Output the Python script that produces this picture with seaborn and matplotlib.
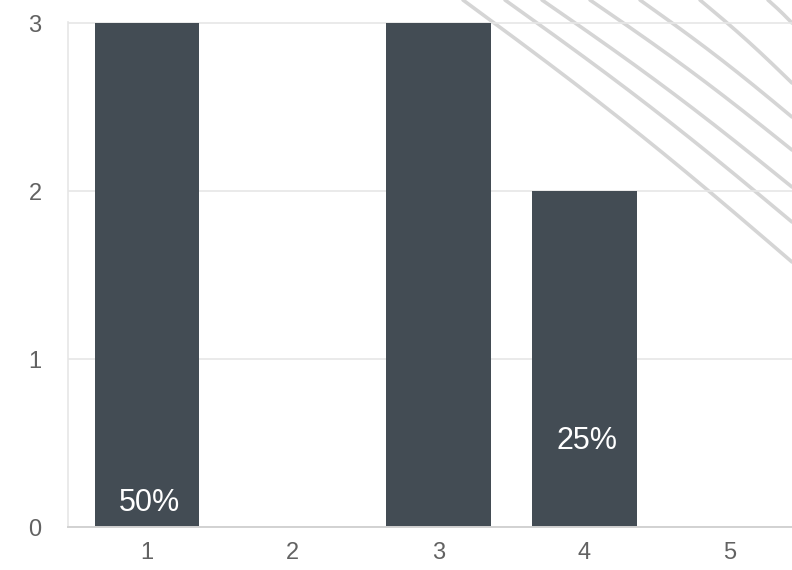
import numpy as np
import pandas as pd
import matplotlib
matplotlib.use("Agg")
import matplotlib.pyplot as plt
import seaborn as sns

# Rating distribution
ratings = ["1", "2", "3", "4", "5"]
counts = [3, 0, 3, 2, 0]
share_text = ["50%", "", "", "25%", ""]

BAR = "#434c54"
GRID = "#e6e6e6"
TICK_TXT = "#626262"

sns.set_theme(style="white")
plt.rcParams["font.family"] = ["Liberation Sans", "DejaVu Sans"]

W, H = 792, 570
fig = plt.figure(figsize=(W / 100, H / 100), dpi=100)
fig.patch.set_facecolor("white")

# decorative gently waving strokes in the upper-right corner (pixel space -> figure fraction)
strokes = [(463, 262), (505, 222), (542, 187), (590, 150), (640, 117), (700, 83), (768, 23)]
for x0, y1 in strokes:
    t = np.linspace(0, 1, 200)
    dx, dy = (W - x0), y1
    n = np.hypot(dx, dy)
    wob = 0.012 * n * np.sin(np.pi * t)
    xs = x0 + dx * t + wob * (dy / n)
    ys = dy * t - wob * (dx / n)
    fig.add_artist(plt.Line2D(xs / W, 1 - ys / H, color="#d5d5d5", lw=2.6,
                              zorder=0.3, solid_capstyle="round"))

ax = fig.add_axes([68 / W, (H - 527) / H, 1 - 68 / W, (527 - 22) / H])
ax.set_facecolor("none")
ax.set_zorder(1)

df = pd.DataFrame({"rating": ratings, "count": counts})
sns.barplot(data=df, x="rating", y="count", order=ratings, color=BAR,
            saturation=1, width=0.72, ax=ax, edgecolor="none")

for i, (txt, c) in enumerate(zip(share_text, counts)):
    if not txt:
        continue
    y = 0.14 if i == 0 else 0.51
    ax.text(i + 0.02, y, txt, ha="center", va="center", color="white", fontsize=22)

ax.set_xlim(-0.542, 4.427)
ax.set_ylim(0, 3.006)
ax.set_yticks([0, 1, 2, 3])
ax.set_xlabel("")
ax.set_ylabel("")

ax.set_axisbelow(True)
ax.yaxis.grid(True, color=GRID, lw=1.2)
ax.xaxis.grid(False)
for s in ["top", "right"]:
    ax.spines[s].set_visible(False)
ax.spines["left"].set_color(GRID)
ax.spines["left"].set_linewidth(1.2)
ax.spines["bottom"].set_color("#d2d2d2")
ax.spines["bottom"].set_linewidth(1.4)

ax.tick_params(axis="y", length=16, color=GRID, width=1.2, pad=3,
               labelsize=17, labelcolor=TICK_TXT)
ax.tick_params(axis="x", length=0, pad=11, labelsize=17, labelcolor=TICK_TXT)

fig.savefig("out.png", dpi=100, facecolor="white")
